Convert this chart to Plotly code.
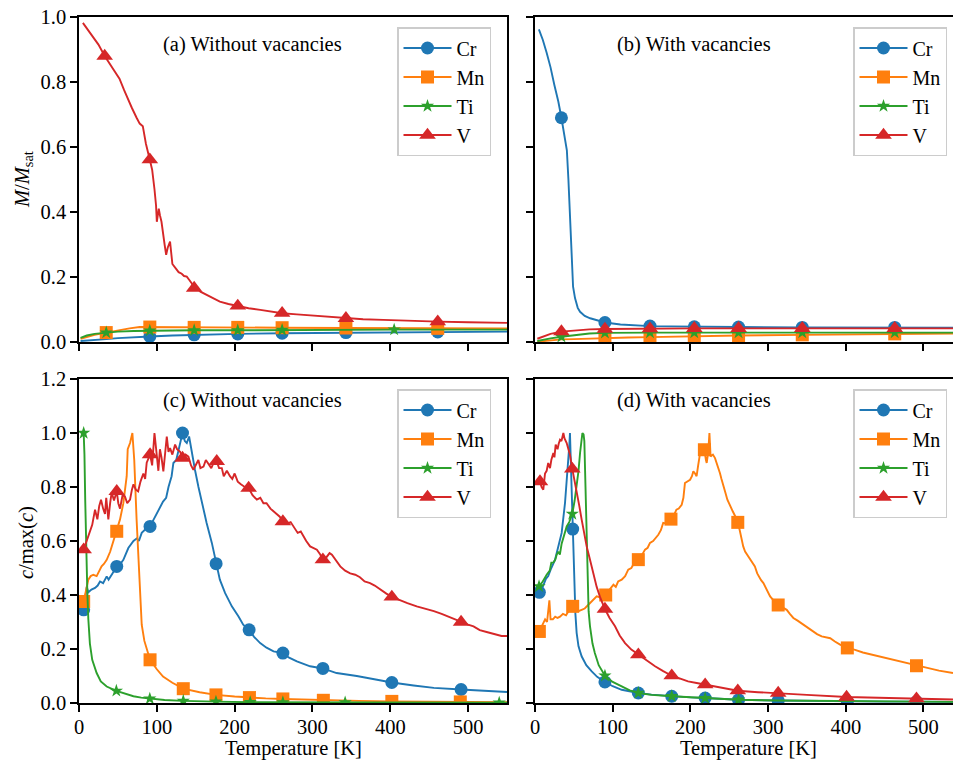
import numpy as np
import plotly.graph_objects as go

# ---------------- data (temperature [K], value) ----------------
# (a) magnetisation, without vacancies
a_Cr = [(2, 0.003), (10, 0.005), (20, 0.007), (35, 0.009), (50, 0.012), (70, 0.015), (91, 0.017),
        (120, 0.020), (148, 0.022), (204, 0.025), (261, 0.027), (343, 0.029), (461, 0.031), (550, 0.032)]
a_Mn = [(2, 0.010), (10, 0.016), (20, 0.022), (35, 0.029), (50, 0.036), (65, 0.042), (78, 0.046),
        (91, 0.046), (120, 0.046), (148, 0.045), (204, 0.045), (261, 0.044), (343, 0.043), (461, 0.042), (550, 0.042)]
a_Ti = [(2, 0.013), (10, 0.020), (20, 0.025), (35, 0.029), (50, 0.032), (70, 0.034), (91, 0.035),
        (120, 0.036), (148, 0.036), (204, 0.036), (261, 0.037), (343, 0.037), (405, 0.038), (461, 0.038), (550, 0.038)]
a_V = [(5, 0.982), (15, 0.95), (25, 0.915), (33, 0.88), (40, 0.855), (46, 0.832), (52, 0.81), (58, 0.775),
       (63, 0.745), (68, 0.72), (74, 0.69), (78, 0.672), (82, 0.664), (86, 0.61), (91, 0.561), (94, 0.53),
       (97, 0.47), (99, 0.42), (100, 0.37), (102.5, 0.41), (104, 0.39), (106, 0.37), (110, 0.30), (112, 0.268),
       (114, 0.29), (117, 0.309), (120, 0.24), (122, 0.232), (124.8, 0.225), (128, 0.215), (132, 0.21),
       (135, 0.203), (138.5, 0.201), (142, 0.19), (145, 0.18), (148, 0.166), (152, 0.165), (156, 0.155),
       (160, 0.15), (165, 0.145), (172, 0.135), (181, 0.124), (192, 0.117), (204, 0.111), (218, 0.104),
       (233, 0.099), (248, 0.094), (261, 0.0885), (280, 0.085), (305, 0.080), (325, 0.076), (343, 0.073),
       (365, 0.070), (391, 0.068), (425, 0.065), (461, 0.0626), (500, 0.061), (550, 0.059)]
a_marks = {"Cr": [91, 148, 204, 261, 343, 461],
           "Mn": [35, 91, 148, 204, 261, 343, 461],
           "Ti": [35, 91, 148, 204, 261, 405],
           "V": [33, 91, 148, 204, 261, 343, 461]}

# (b) magnetisation, with vacancies
b_Cr = [(5, 0.962), (10, 0.93), (15, 0.89), (20, 0.845), (25, 0.79), (30, 0.74), (34, 0.69), (38, 0.64),
        (41, 0.59), (43, 0.50), (45, 0.38), (47, 0.25), (49, 0.17), (51.5, 0.135), (55, 0.105), (58, 0.093),
        (64, 0.08), (71, 0.073), (80, 0.066), (90, 0.060), (110, 0.054), (130, 0.051), (148, 0.049),
        (175, 0.048), (205, 0.047), (262, 0.046), (344, 0.045), (463, 0.045), (538, 0.044)]
b_Mn = [(3, 0.001), (10, 0.003), (20, 0.005), (34, 0.008), (50, 0.009), (70, 0.011), (90, 0.012),
        (120, 0.014), (148, 0.015), (205, 0.018), (262, 0.020), (344, 0.022), (463, 0.025), (538, 0.026)]
b_Ti = [(3, 0.003), (10, 0.007), (20, 0.011), (34, 0.016), (50, 0.021), (70, 0.026), (90, 0.028),
        (120, 0.029), (148, 0.029), (205, 0.029), (262, 0.029), (344, 0.029), (463, 0.029), (538, 0.029)]
b_V = [(3, 0.010), (10, 0.017), (20, 0.025), (34, 0.032), (50, 0.036), (70, 0.039), (90, 0.040),
       (120, 0.041), (148, 0.041), (205, 0.042), (262, 0.042), (344, 0.042), (463, 0.042), (538, 0.042)]
b_marks = {"Cr": [34, 90, 148, 205, 262, 344, 463],
           "Mn": [90, 148, 205, 262, 344, 463],
           "Ti": [34, 90, 148, 205, 262, 344, 463],
           "V": [34, 90, 148, 205, 262, 344, 463]}

# (c) normalised c, without vacancies
c_Cr = [(6, 0.345), (8, 0.38), (9.9, 0.43), (12, 0.41), (16, 0.42), (20.6, 0.426), (24, 0.435), (27, 0.45),
        (31, 0.444), (35.6, 0.469), (38, 0.457), (43, 0.48), (48.5, 0.506), (52, 0.51), (57, 0.53),
        (63.4, 0.574), (70, 0.60), (74.5, 0.61), (77, 0.60), (80.6, 0.63), (86, 0.645), (91.3, 0.654),
        (97.7, 0.69), (104, 0.728), (108, 0.746), (112, 0.76), (115, 0.80), (119, 0.84), (121.3, 0.889),
        (125, 0.90), (127.7, 0.938), (133, 1.0), (136, 0.97), (138.5, 0.963), (141.5, 0.987), (145, 0.926),
        (149, 0.864), (153.5, 0.80), (157.8, 0.74), (164, 0.667), (170.7, 0.593), (176.2, 0.516),
        (181, 0.457), (187.8, 0.407), (196.4, 0.358), (205, 0.32), (211, 0.29), (218.6, 0.271), (225, 0.245),
        (232.8, 0.222), (241, 0.205), (250, 0.191), (262, 0.185), (270, 0.168), (280, 0.154), (297, 0.136),
        (313.4, 0.128), (331, 0.111), (357, 0.10), (383, 0.086), (402, 0.076), (430, 0.065), (456, 0.056),
        (491, 0.05), (520, 0.045), (550, 0.041)]
c_Mn = [(6, 0.376), (9, 0.42), (12, 0.457), (15, 0.47), (18.4, 0.475), (22.7, 0.47), (26, 0.49), (29, 0.506),
        (32, 0.515), (35.6, 0.53), (40, 0.56), (44, 0.60), (48.5, 0.636), (52.7, 0.68), (57, 0.74),
        (61.3, 0.84), (62.6, 0.94), (65.6, 0.963), (68.6, 1.0), (71, 0.90), (74, 0.68), (76.3, 0.53),
        (78.5, 0.37), (80.6, 0.29), (84, 0.23), (87, 0.197), (91.3, 0.16), (100, 0.125), (108, 0.098),
        (120, 0.075), (134, 0.053), (155, 0.04), (176, 0.03), (200, 0.024), (219, 0.02), (240, 0.017),
        (262, 0.015), (314, 0.01), (360, 0.008), (402, 0.006), (450, 0.005), (490, 0.004), (550, 0.003)]
c_Ti = [(6, 1.0), (7, 0.92), (8, 0.75), (9, 0.58), (10.7, 0.41), (12, 0.31), (14, 0.22), (17, 0.16),
        (22.7, 0.111), (28, 0.08), (35.6, 0.061), (48, 0.045), (60, 0.033), (70, 0.025), (80, 0.02),
        (91, 0.016), (110, 0.011), (134, 0.008), (155, 0.006), (176, 0.005), (220, 0.003), (262, 0.0025),
        (342, 0.002), (450, 0.0015), (540, 0.001), (550, 0.001)]
c_V = [(6, 0.568), (10, 0.60), (14, 0.64), (17, 0.66), (20.6, 0.716), (23.6, 0.68), (26, 0.73), (28.3, 0.753),
       (31, 0.72), (33.4, 0.70), (35, 0.76), (37.7, 0.68), (40, 0.74), (42, 0.78), (45, 0.75), (48.5, 0.784),
       (50.5, 0.74), (52.7, 0.72), (56, 0.77), (59, 0.765), (62, 0.74), (65.6, 0.753), (68, 0.79), (70, 0.81),
       (73, 0.79), (76, 0.784), (79, 0.82), (82.7, 0.85), (85, 0.83), (87, 0.89), (91.3, 0.92), (94, 0.88),
       (97, 1.0), (100, 0.90), (102, 0.86), (104, 0.94), (106, 0.91), (108.4, 0.858), (110.5, 0.93),
       (112.8, 0.987), (115, 0.93), (117, 0.944), (120, 0.92), (123.5, 0.957), (126, 0.94), (130, 0.93),
       (133, 0.907), (137, 0.92), (140.6, 0.913), (144, 0.88), (147, 0.864), (150, 0.88), (153.4, 0.90),
       (156, 0.87), (160, 0.876), (163, 0.90), (166, 0.889), (170, 0.87), (173, 0.89), (177, 0.895),
       (180, 0.87), (183.5, 0.87), (186, 0.84), (190, 0.86), (194, 0.84), (197, 0.83), (200, 0.85),
       (204, 0.82), (208, 0.81), (213, 0.80), (218, 0.796), (223, 0.77), (228.5, 0.753), (233, 0.76),
       (237, 0.74), (241, 0.74), (246, 0.72), (250, 0.71), (254, 0.697), (258, 0.69), (262, 0.672),
       (268, 0.665), (272, 0.67), (275.6, 0.654), (281, 0.63), (285, 0.635), (288.5, 0.617), (292, 0.60),
       (297, 0.58), (301, 0.575), (305.7, 0.568), (310, 0.55), (313.4, 0.531), (318, 0.54), (322, 0.555),
       (325, 0.549), (330, 0.53), (335.7, 0.506), (342, 0.49), (348.5, 0.48), (355, 0.475), (361, 0.466),
       (367, 0.45), (374, 0.444), (380, 0.435), (387, 0.42), (395, 0.405), (402, 0.393), (412, 0.38),
       (422, 0.37), (434, 0.358), (445, 0.35), (456, 0.34), (466, 0.33), (478, 0.315), (491, 0.30),
       (500, 0.29), (507, 0.284), (515, 0.27), (525, 0.262), (537, 0.253), (543, 0.248), (550, 0.248)]
c_marks = {"Cr": [6, 48.5, 91.3, 133, 176.2, 218.6, 262, 313.4, 402, 491],
           "Mn": [6, 48.5, 91.3, 134, 176, 219, 262, 314, 402, 490],
           "Ti": [6, 48, 91, 134, 176, 220, 262, 342, 540],
           "V": [6, 48.5, 91.3, 133, 177, 218, 262, 313.4, 402, 491]}

# (d) normalised c, with vacancies
d_Cr = [(5.6, 0.41), (10, 0.43), (14, 0.46), (17, 0.47), (21, 0.50), (25.7, 0.53), (30, 0.58), (34.3, 0.63),
        (38.6, 0.74), (41, 0.82), (43, 0.90), (44.3, 0.96), (45, 1.0), (46, 0.90), (47, 0.80), (48.5, 0.644),
        (50.6, 0.43), (52, 0.33), (53.6, 0.26), (56, 0.21), (60, 0.173), (66, 0.14), (73, 0.117), (80, 0.097),
        (90, 0.078), (100, 0.062), (111.6, 0.049), (122, 0.042), (133, 0.037), (150, 0.031), (176, 0.025),
        (200, 0.021), (219, 0.0185), (262, 0.012), (313, 0.009), (360, 0.007), (402, 0.006), (450, 0.005),
        (491, 0.005), (538, 0.004)]
d_Mn = [(5.6, 0.265), (8, 0.28), (10.7, 0.296), (13, 0.31), (15.5, 0.30), (17, 0.333), (18.5, 0.38),
        (20, 0.31), (23, 0.31), (26, 0.32), (29, 0.315), (32.2, 0.32), (36, 0.33), (40, 0.325), (43, 0.34),
        (48.5, 0.358), (52, 0.35), (56, 0.34), (60, 0.345), (64, 0.35), (68.7, 0.364), (74, 0.38),
        (79.4, 0.395), (85, 0.39), (91, 0.40), (96, 0.42), (101, 0.438), (104, 0.43), (107, 0.45),
        (111.6, 0.457), (116, 0.47), (120, 0.494), (124, 0.50), (128, 0.52), (133, 0.531), (137, 0.545),
        (141.6, 0.568), (145, 0.575), (148, 0.593), (152, 0.60), (155, 0.61), (158.7, 0.623), (162, 0.64),
        (165, 0.667), (168, 0.665), (171, 0.675), (175, 0.681), (178, 0.69), (182, 0.716), (185, 0.72),
        (188.8, 0.734), (191, 0.76), (193, 0.815), (196, 0.82), (199.6, 0.827), (202, 0.84), (203.8, 0.858),
        (206, 0.85), (208, 0.84), (210, 0.88), (212.5, 0.926), (215, 0.93), (218, 0.938), (220, 0.90),
        (221, 0.889), (223, 0.93), (224.5, 1.0), (226, 0.913), (229, 0.92), (231.7, 0.907), (235, 0.88),
        (238, 0.852), (240, 0.83), (242.5, 0.80), (245, 0.78), (247.6, 0.753), (251, 0.73), (254.5, 0.71),
        (258, 0.69), (261, 0.669), (263.5, 0.64), (266, 0.605), (268, 0.58), (270.4, 0.561), (273, 0.55),
        (276.8, 0.531), (280, 0.52), (283, 0.506), (286, 0.48), (288.8, 0.463), (291, 0.455), (294, 0.444),
        (298, 0.42), (302.6, 0.395), (307, 0.38), (313, 0.363), (318, 0.355), (324, 0.345), (328, 0.33),
        (332.5, 0.315), (338, 0.305), (345.4, 0.29), (350, 0.282), (358, 0.265), (363, 0.255), (369, 0.247),
        (375, 0.242), (380, 0.24), (386, 0.228), (392.7, 0.216), (402, 0.204), (412, 0.197), (422, 0.187),
        (432, 0.18), (444, 0.173), (455, 0.165), (467, 0.155), (480, 0.145), (491, 0.138), (505, 0.13),
        (520, 0.12), (538, 0.111)]
d_Ti = [(5.2, 0.432), (10, 0.45), (15, 0.475), (19, 0.49), (21, 0.52), (23.6, 0.52), (26, 0.53), (28, 0.55),
        (30, 0.56), (32, 0.55), (34.3, 0.59), (37, 0.62), (40.8, 0.654), (44, 0.67), (48, 0.70), (51, 0.75),
        (53.6, 0.80), (56, 0.86), (58, 0.926), (60, 0.98), (61, 1.0), (62.5, 0.995), (63.5, 0.97), (65, 0.80),
        (66.5, 0.60), (67.8, 0.43), (69, 0.34), (70.8, 0.284), (74, 0.22), (77, 0.185), (82, 0.14), (90, 0.101),
        (100, 0.078), (111.6, 0.0616), (122, 0.047), (133, 0.037), (150, 0.03), (176, 0.025), (200, 0.021),
        (219, 0.018), (262, 0.012), (313, 0.009), (402, 0.006), (491, 0.005), (538, 0.004)]
d_V = [(6.4, 0.82), (8.5, 0.80), (10.7, 0.79), (12.9, 0.85), (15, 0.86), (17, 0.889), (19.3, 0.87), (21, 0.90),
       (23.6, 0.926), (25, 0.91), (26.6, 0.957), (29, 0.94), (30.5, 0.96), (32.2, 0.975), (34, 0.97),
       (36.5, 1.0), (38, 0.98), (40.8, 0.963), (43, 0.94), (45, 0.92), (48, 0.867), (50.5, 0.83), (53.6, 0.79),
       (57, 0.73), (60, 0.68), (63, 0.63), (66.5, 0.58), (70, 0.54), (73, 0.506), (76, 0.47), (79.4, 0.43),
       (84, 0.39), (90, 0.348), (96, 0.315), (103, 0.284), (109, 0.25), (115.9, 0.222), (124, 0.198),
       (133, 0.179), (143, 0.157), (154.5, 0.136), (165, 0.118), (176, 0.101), (187, 0.09), (197, 0.08),
       (208, 0.074), (219, 0.068), (240, 0.056), (261, 0.0456), (287, 0.04), (313, 0.037), (350, 0.03),
       (401, 0.022), (445, 0.019), (491, 0.016), (538, 0.013)]
d_marks = {"Cr": [5.6, 48.5, 90, 133, 176, 219, 262, 313, 402, 491],
           "Mn": [5.6, 48.5, 91, 133, 175, 218, 261, 313, 402, 491],
           "Ti": [5.2, 48, 90, 133, 176, 219, 262],
           "V": [6.4, 48, 90, 133, 176, 219, 261, 313, 401, 491]}

elements = ["Cr", "Mn", "Ti", "V"]
panel_titles = ["(a) Without vacancies", "(b) With vacancies", "(c) Without vacancies", "(d) With vacancies"]
x_ticks = [0, 100, 200, 300, 400, 500]
y_ticks_top = [0.0, 0.2, 0.4, 0.6, 0.8, 1.0]
y_ticks_bottom = [0.0, 0.2, 0.4, 0.6, 0.8, 1.0, 1.2]

# ---------------- styles ----------------
COLORS = {"Cr": "#1f77b4", "Mn": "#ff7f0e", "Ti": "#2ca02c", "V": "#d62728"}
SYMBOLS = {"Cr": "circle", "Mn": "square", "Ti": "star", "V": "triangle-up"}
MSIZE = {"Cr": 13, "Mn": 13, "Ti": 10, "V": 14.5}
LW = 1.9
FONT = "Liberation Serif"
FS = 20.5
FS_LEG = 20

W, H = 953, 760
ML, MR, MT, MB = 79, 0, 17, 57
PW, PH = W - ML - MR, H - MT - MB


def px_x(p):
    return (p - ML) / PW


def px_y(p):
    return 1 - (p - MT) / PH


fig = go.Figure()

panels = [
    ("x", "y", "legend", {"Cr": a_Cr, "Mn": a_Mn, "Ti": a_Ti, "V": a_V}, a_marks),
    ("x2", "y2", "legend2", {"Cr": b_Cr, "Mn": b_Mn, "Ti": b_Ti, "V": b_V}, b_marks),
    ("x3", "y3", "legend3", {"Cr": c_Cr, "Mn": c_Mn, "Ti": c_Ti, "V": c_V}, c_marks),
    ("x4", "y4", "legend4", {"Cr": d_Cr, "Mn": d_Mn, "Ti": d_Ti, "V": d_V}, d_marks),
]

for xa, ya, leg, series, marks in panels:
    for el in elements:
        T = np.array([p[0] for p in series[el]], dtype=float)
        V = np.array([p[1] for p in series[el]], dtype=float)
        col = COLORS[el]
        mk = dict(symbol=SYMBOLS[el], size=MSIZE[el], color=col, line=dict(width=0))
        fig.add_trace(go.Scatter(x=T, y=V, mode="lines", line=dict(color=col, width=LW),
                                 xaxis=xa, yaxis=ya, showlegend=False, hoverinfo="skip"))
        idx = [int(np.argmin(np.abs(T - m))) for m in marks[el]]
        fig.add_trace(go.Scatter(x=T[idx], y=V[idx], mode="markers", marker=mk,
                                 xaxis=xa, yaxis=ya, showlegend=False, hoverinfo="skip"))
        fig.add_trace(go.Scatter(x=[None], y=[None], mode="lines+markers", name=el,
                                 line=dict(color=col, width=LW), marker=mk,
                                 xaxis=xa, yaxis=ya, legend=leg, legendgroup=leg + el,
                                 showlegend=True))

xdomL = [0, px_x(507)]
xdomR = [px_x(535), 1]
ydomT = [px_y(342), 1]
ydomB = [0, px_y(379)]

axis_common = dict(showline=True, linecolor="black", linewidth=1.5, ticks="outside", ticklen=7,
                   tickwidth=1.5, tickcolor="black", showgrid=False, zeroline=False,
                   tickfont=dict(family=FONT, size=FS, color="black"))

xr_left = [0, 550]
xr_right = [0, 538]

fig.update_layout(
    width=W, height=H, margin=dict(l=ML, r=MR, t=MT, b=MB),
    paper_bgcolor="white", plot_bgcolor="white",
    font=dict(family=FONT, size=FS, color="black"),
    xaxis=dict(domain=xdomL, range=xr_left, anchor="y", tickvals=x_ticks, showticklabels=False, mirror=True, **axis_common),
    yaxis=dict(domain=ydomT, range=[0, 1.0], anchor="x", tickvals=y_ticks_top, tickformat=".1f", mirror=True, **axis_common),
    xaxis2=dict(domain=xdomR, range=xr_right, anchor="y2", tickvals=x_ticks, showticklabels=False, mirror=True, **axis_common),
    yaxis2=dict(domain=ydomT, range=[0, 1.0], anchor="x2", tickvals=y_ticks_top, showticklabels=False, **axis_common),
    xaxis3=dict(domain=xdomL, range=xr_left, anchor="y3", tickvals=x_ticks, mirror=True, ticklabelstandoff=-2, **axis_common),
    yaxis3=dict(domain=ydomB, range=[0, 1.2], anchor="x3", tickvals=y_ticks_bottom, tickformat=".1f", mirror=True, **axis_common),
    xaxis4=dict(domain=xdomR, range=xr_right, anchor="y4", tickvals=x_ticks, mirror=True, ticklabelstandoff=-2, **axis_common),
    yaxis4=dict(domain=ydomB, range=[0, 1.2], anchor="x4", tickvals=y_ticks_bottom, showticklabels=False, **axis_common),
)

leg_common = dict(bgcolor="rgba(255,255,255,0.8)", bordercolor="#cccccc", borderwidth=1.5,
                  font=dict(family=FONT, size=FS_LEG, color="black"), xanchor="left", yanchor="top",
                  traceorder="grouped", tracegroupgap=0, itemwidth=48)
fig.update_layout(
    legend=dict(x=px_x(397), y=px_y(27), **leg_common),
    legend2=dict(x=px_x(853), y=px_y(27), **leg_common),
    legend3=dict(x=px_x(397), y=px_y(389), **leg_common),
    legend4=dict(x=px_x(853), y=px_y(389), **leg_common),
)

ann = []
title_pos = [(252, 44), (694, 44), (252, 400), (694, 400)]
for t, (xp, yp) in zip(panel_titles, title_pos):
    ann.append(dict(text=t, x=px_x(xp), y=px_y(yp), xref="paper", yref="paper", showarrow=False,
                    xanchor="center", yanchor="middle", font=dict(family=FONT, size=FS, color="black")))
ann.append(dict(text="Temperature [K]", x=px_x(293), y=px_y(748.5), xref="paper", yref="paper", showarrow=False,
                xanchor="center", yanchor="middle", font=dict(family=FONT, size=FS, color="black")))
ann.append(dict(text="Temperature [K]", x=px_x(748), y=px_y(748.5), xref="paper", yref="paper", showarrow=False,
                xanchor="center", yanchor="middle", font=dict(family=FONT, size=FS, color="black")))
ann.append(dict(text="<i>M</i>/<i>M</i><sub>sat</sub>", x=px_x(23), y=px_y(180), xref="paper", yref="paper",
                showarrow=False, textangle=-90, xanchor="center", yanchor="middle",
                font=dict(family=FONT, size=FS, color="black")))
ann.append(dict(text="<i>c</i>/max(<i>c</i>)", x=px_x(26), y=px_y(543), xref="paper", yref="paper",
                showarrow=False, textangle=-90, xanchor="center", yanchor="middle",
                font=dict(family=FONT, size=FS, color="black")))
fig.update_layout(annotations=ann)

fig.write_html("out.html", config={"displayModeBar": False},
               post_script="document.body.style.margin='0';document.body.style.padding='0';")
